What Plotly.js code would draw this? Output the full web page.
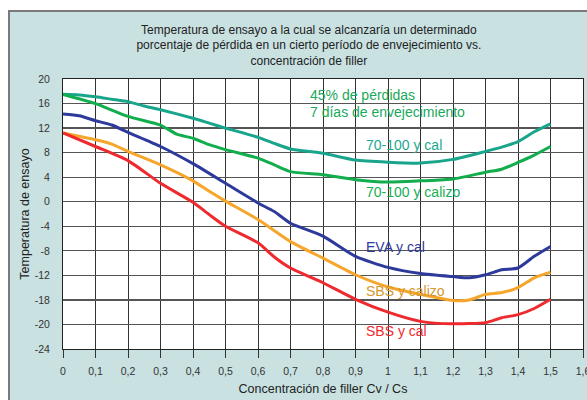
<!DOCTYPE html>
<html><head><meta charset="utf-8">
<script src="https://cdn.plot.ly/plotly-3.0.1.min.js"></script>
<style>
html,body{margin:0;padding:0;background:#fff;width:587px;height:400px;overflow:hidden}
#wrap{position:absolute;left:8px;top:10px;width:579px;height:390px;border-left:2px solid #7a7a7a;border-top:2px solid #7a7a7a;overflow:hidden;background:#c9e1e1}
#chart{width:577px;height:388px}
</style></head><body>
<div id="wrap"><div id="chart"></div></div>
<script>
// y tick labels as printed on the original (note the "-18" at the -16 gridline)
const yTickVals = [20,16,12,8,4,0,-4,-8,-12,-16,-20,-24];
const yTickText = ['20','16','12','8','4','0','-4','-8','-12','-18','-20','-24'];
const xTickVals = [0,0.1,0.2,0.3,0.4,0.5,0.6,0.7,0.8,0.9,1,1.1,1.2,1.3,1.4,1.5,1.6];
const xTickText = ['0','0,1','0,2','0,3','0,4','0,5','0,6','0,7','0,8','0,9','1','1,1','1,2','1,3','1,4','1,5','1,6'];

const xCal70 = [0,0.05,0.1,0.15,0.2,0.25,0.3,0.4,0.45,0.5,0.6,0.65,0.7,0.8,0.9,1.0,1.1,1.2,1.3,1.35,1.4,1.45,1.5];
const yCal70 = [17.5,17.4,17.1,16.7,16.3,15.6,15.0,13.6,12.8,12.0,10.5,9.5,8.6,7.9,6.8,6.45,6.3,6.9,8.2,8.9,9.8,11.4,12.7];

const xCalizo70 = [0,0.1,0.2,0.3,0.35,0.4,0.45,0.5,0.6,0.65,0.7,0.8,0.9,1.0,1.1,1.2,1.3,1.35,1.4,1.45,1.5];
const yCalizo70 = [17.5,16.0,13.9,12.5,11.0,10.35,9.3,8.5,7.1,6.0,4.9,4.4,3.6,3.2,3.4,3.7,4.8,5.3,6.4,7.6,9.0];

const xEva = [0,0.05,0.1,0.15,0.2,0.3,0.4,0.5,0.6,0.65,0.7,0.8,0.9,1.0,1.1,1.2,1.25,1.3,1.35,1.4,1.45,1.5];
const yEva = [14.3,14.0,13.2,12.5,11.3,9.0,6.2,3.0,-0.2,-1.6,-3.5,-5.6,-8.9,-10.7,-11.7,-12.2,-12.4,-11.9,-11.1,-10.8,-8.9,-7.3];

const xSbsCalizo = [0,0.1,0.15,0.2,0.3,0.4,0.45,0.5,0.6,0.7,0.8,0.9,1.0,1.1,1.2,1.25,1.3,1.35,1.4,1.45,1.5];
const ySbsCalizo = [11.2,10.1,9.4,8.2,6.0,3.4,1.7,0.1,-2.9,-6.5,-9.2,-11.9,-13.9,-15.1,-16.1,-16.0,-15.1,-14.8,-14.0,-12.4,-11.5];

const xSbsCal = [0,0.1,0.2,0.3,0.4,0.45,0.5,0.6,0.65,0.7,0.8,0.9,1.0,1.1,1.2,1.3,1.35,1.4,1.45,1.5];
const ySbsCal = [11.2,9.0,6.7,3.0,-0.1,-2.1,-4.0,-6.7,-9.0,-10.8,-13.2,-15.9,-18.0,-19.5,-19.9,-19.7,-18.9,-18.4,-17.4,-15.9];

const seriesNames = ['70-100 y cal','70-100 y calizo','EVA y cal','SBS y calizo','SBS y cal'];
const noteLines = ['45% de pérdidas','7 días de envejecimiento'];

const F = 'Arial, "Liberation Sans", sans-serif';
function tr(x,y,c){return {x:x,y:y,type:'scatter',mode:'lines',line:{color:c,width:3,shape:'spline',smoothing:0.6},hoverinfo:'skip',showlegend:false,cliponaxis:false};}
const data = [
  tr(xCal70,yCal70,'#19a58b'),
  tr(xCalizo70,yCalizo70,'#12ad4c'),
  tr(xEva,yEva,'#2d3a9b'),
  tr(xSbsCalizo,ySbsCalizo,'#f5a62b'),
  tr(xSbsCal,ySbsCal,'#ee2a2f')
];
function ann(t,x,y,c){return {text:t,x:x,y:y,xref:'x',yref:'y',xanchor:'left',yanchor:'middle',showarrow:false,font:{family:F,size:14,color:c}};}
const layout = {
  width:577,height:388,
  margin:{l:53,r:4,t:67,b:51},
  paper_bgcolor:'#c9e1e1',plot_bgcolor:'#ffffff',
  font:{family:F,size:11,color:'#333'},
  title:{text:'Temperatura de ensayo a la cual se alcanzaría un determinado<br>porcentaje de pérdida en un cierto período de envejecimiento vs.<br>concentración de filler',
    font:{family:F,size:12,color:'#222'},xref:'container',x:0.518,xanchor:'center',yref:'container',y:0.944,yanchor:'top'},
  xaxis:{range:[0,1.6],tickmode:'array',tickvals:xTickVals,ticktext:xTickText,showgrid:true,gridcolor:'#333',gridwidth:1,
    showline:true,linecolor:'#222',linewidth:1,mirror:true,zeroline:false,ticklabeloverflow:'allow',
    ticks:'outside',ticklen:8,tickcolor:'#333',ticklabelstandoff:4,tickfont:{family:F,size:10.5,color:'#333'},
    title:{text:'Concentración de filler Cv / Cs',font:{family:F,size:12.5,color:'#222'},standoff:8}},
  yaxis:{range:[-24,20],tickmode:'array',tickvals:yTickVals,ticktext:yTickText,showgrid:true,gridcolor:'#555',gridwidth:1.2,
    showline:true,linecolor:'#222',linewidth:1,mirror:true,zeroline:false,ticks:'',ticklabelstandoff:10,
    tickfont:{family:F,size:10.5,color:'#333'},
    title:{text:'Temperatura de ensayo',font:{family:F,size:12.5,color:'#222'},standoff:2}},
  annotations:[
    ann(noteLines[0],0.755,17.4,'#1aa85a'),
    ann(noteLines[1],0.755,14.6,'#1aa85a'),
    ann(seriesNames[0],0.925,9.3,'#1ea78f'),
    ann(seriesNames[1],0.925,1.6,'#16ad55'),
    ann(seriesNames[2],0.925,-7.3,'#2d3a9b'),
    ann(seriesNames[3],0.925,-14.5,'#d4992f'),
    ann(seriesNames[4],0.925,-21.1,'#ee2a2f')
  ]
};
Plotly.newPlot('chart',data,layout,{displayModeBar:false,staticPlot:true});
</script></body></html>
